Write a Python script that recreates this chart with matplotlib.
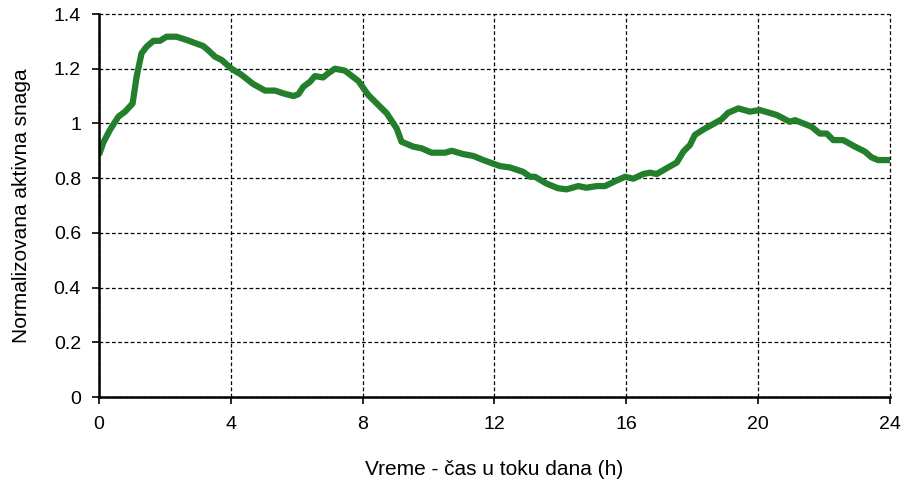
import matplotlib
matplotlib.use("Agg")
import matplotlib.pyplot as plt

hours = [0.0, 0.13, 0.33, 0.59, 0.79, 1.02, 1.14, 1.29, 1.44, 1.65, 1.85, 2.05, 2.35,
         2.66, 3.16, 3.31, 3.52, 3.72, 4.02, 4.33, 4.68, 5.04, 5.34, 5.59, 5.9, 6.05,
         6.2, 6.4, 6.55, 6.8, 6.95, 7.16, 7.46, 7.87, 8.17, 8.32, 8.73, 9.03, 9.18,
         9.54, 9.79, 10.09, 10.5, 10.7, 11.05, 11.36, 11.66, 12.17, 12.47, 12.87,
         13.08, 13.23, 13.58, 13.93, 14.19, 14.54, 14.79, 15.1, 15.35, 15.7, 15.96,
         16.21, 16.51, 16.72, 16.92, 17.22, 17.53, 17.73, 17.93, 18.08, 18.34, 18.64,
         18.89, 19.09, 19.4, 19.75, 20.05, 20.56, 20.96, 21.12, 21.62, 21.87, 22.08,
         22.28, 22.58, 22.94, 23.24, 23.44, 23.64, 24.0]
power = [0.885, 0.93, 0.976, 1.025, 1.043, 1.073, 1.17, 1.256, 1.28, 1.302, 1.302,
         1.317, 1.317, 1.305, 1.283, 1.268, 1.244, 1.232, 1.20, 1.177, 1.144, 1.12,
         1.12, 1.11, 1.10, 1.107, 1.134, 1.152, 1.173, 1.168, 1.183, 1.20, 1.193,
         1.155, 1.104, 1.086, 1.037, 0.982, 0.933, 0.915, 0.909, 0.893, 0.893, 0.90,
         0.888, 0.881, 0.866, 0.844, 0.839, 0.823, 0.805, 0.805, 0.78, 0.763, 0.759,
         0.771, 0.765, 0.771, 0.771, 0.791, 0.805, 0.798, 0.815, 0.82, 0.815, 0.836,
         0.857, 0.897, 0.921, 0.958, 0.978, 0.998, 1.015, 1.039, 1.055, 1.043, 1.049,
         1.031, 1.006, 1.012, 0.988, 0.963, 0.963, 0.939, 0.939, 0.915, 0.897, 0.876,
         0.866, 0.866]

x_ticks = [0, 4, 8, 12, 16, 20, 24]
y_ticks = [0, 0.2, 0.4, 0.6, 0.8, 1.0, 1.2, 1.4]
y_tick_labels = ["0", "0.2", "0.4", "0.6", "0.8", "1", "1.2", "1.4"]

plt.rcParams['font.family'] = ['Liberation Sans', 'DejaVu Sans']

fig = plt.figure(figsize=(9.06, 4.79), dpi=100)
ax = fig.add_axes([99/906, 1 - 397/479, (890 - 99)/906, (397 - 14)/479])

ax.plot(hours, power, color='#237F2B', linewidth=4.5, solid_capstyle='butt',
        solid_joinstyle='round', zorder=3)

ax.set_xlim(0, 24)
ax.set_ylim(0, 1.4)
ax.set_xticks(x_ticks)
ax.set_yticks(y_ticks)
ax.set_yticklabels(y_tick_labels)

ax.grid(True, color='black', linestyle=(0, (3, 2)), linewidth=0.9, zorder=1)
for g in ax.get_xgridlines() + ax.get_ygridlines():
    g.set_clip_on(False)

for s in ['top', 'right']:
    ax.spines[s].set_visible(False)
for s in ['left', 'bottom']:
    ax.spines[s].set_linewidth(1.8)
    ax.spines[s].set_zorder(4)

ax.tick_params(axis='both', direction='out', length=5, width=1.2, labelsize=14,
               colors='black')
ax.tick_params(axis='y', pad=8)
ax.tick_params(axis='x', pad=9)

ax.set_xlabel("Vreme - čas u toku dana (h)", fontsize=15, labelpad=19)
ax.set_ylabel("Normalizovana aktivna snaga", fontsize=15, labelpad=16)

fig.savefig("out.png", dpi=100)
